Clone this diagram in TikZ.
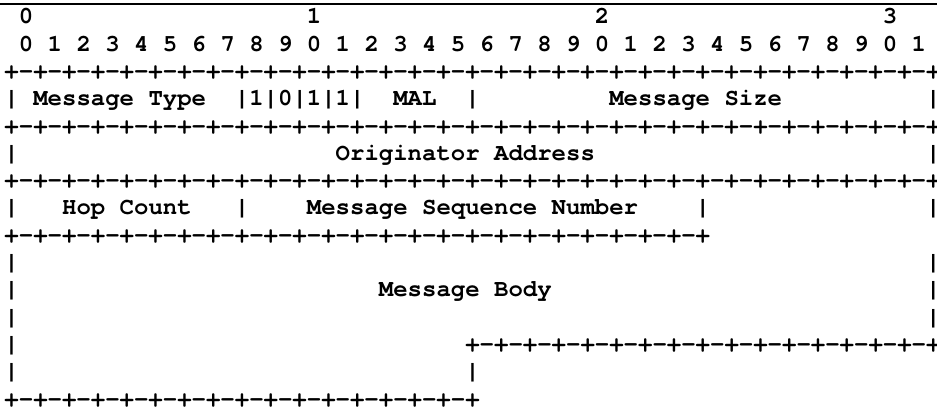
\documentclass[tikz,border=0pt]{standalone}
\usepackage{fontspec}
\setmonofont{TeX Gyre Cursor}
\newcommand{\bitseg}{-+-+-+-+}

\begin{document}
\begin{tikzpicture}[x=14.4pt,y=-27.3pt]
  % Define styles for nodes
  \tikzstyle{ascii} = [anchor=base west, inner sep=0pt, outer sep=0pt,
  font=\ttfamily\bfseries\fontsize{24pt}{24pt}\selectfont]

  % Page frame and rule at top
  \useasboundingbox (-0.3125,0.128) rectangle (64.757,15.146);
  \draw[line width=1.2pt] (-0.3125,0.2745) -- (64.757,0.2745);

  % Bit numbers at top
  \foreach \dd in {0,...,3}
    \node[ascii] (dec\dd) at (1+20*\dd,1) {\dd};
  \foreach \i in {0,...,31} {
    \pgfmathtruncatemacro{\u}{mod(\i,10)}
    \node[ascii] (bit\i) at (1+2*\i,2) {\u};
  }

  % Separator rows
  \node[ascii] (sepA) at (0,3) {+\bitseg\bitseg\bitseg\bitseg\bitseg\bitseg\bitseg\bitseg};
  \node[ascii] (sepB) at (0,5) {+\bitseg\bitseg\bitseg\bitseg\bitseg\bitseg\bitseg\bitseg};
  \node[ascii] (sepC) at (0,7) {+\bitseg\bitseg\bitseg\bitseg\bitseg\bitseg\bitseg\bitseg};
  \node[ascii] (sepD) at (0,9) {+\bitseg\bitseg\bitseg\bitseg\bitseg\bitseg};
  \node[ascii] (sepE) at (32,13) {+\bitseg\bitseg\bitseg\bitseg};
  \node[ascii] (sepF) at (0,15) {+\bitseg\bitseg\bitseg\bitseg};

  % Field borders
  \foreach \cx/\ry in {0/4,32/4,64/4,0/6,64/6,0/8,16/8,48/8,64/8,
    0/10,64/10,0/11,64/11,0/12,64/12,0/13,0/14,32/14}
    \node[ascii] (bar\cx-\ry) at (\cx,\ry) {|};

  % Field names
  \node[ascii] (msgtype) at (2,4) {Message Type};
  \node[ascii] (flags) at (16,4) {|1|0|1|1|};
  \node[ascii] (mal) at (27,4) {MAL};
  \node[ascii] (msgsize) at (42,4) {Message Size};
  \node[ascii] (orig) at (23,6) {Originator Address};
  \node[ascii] (hops) at (4,8) {Hop Count};
  \node[ascii] (seqno) at (21,8) {Message Sequence Number};
  \node[ascii] (body) at (26,11) {Message Body};

\end{tikzpicture}
\end{document}
